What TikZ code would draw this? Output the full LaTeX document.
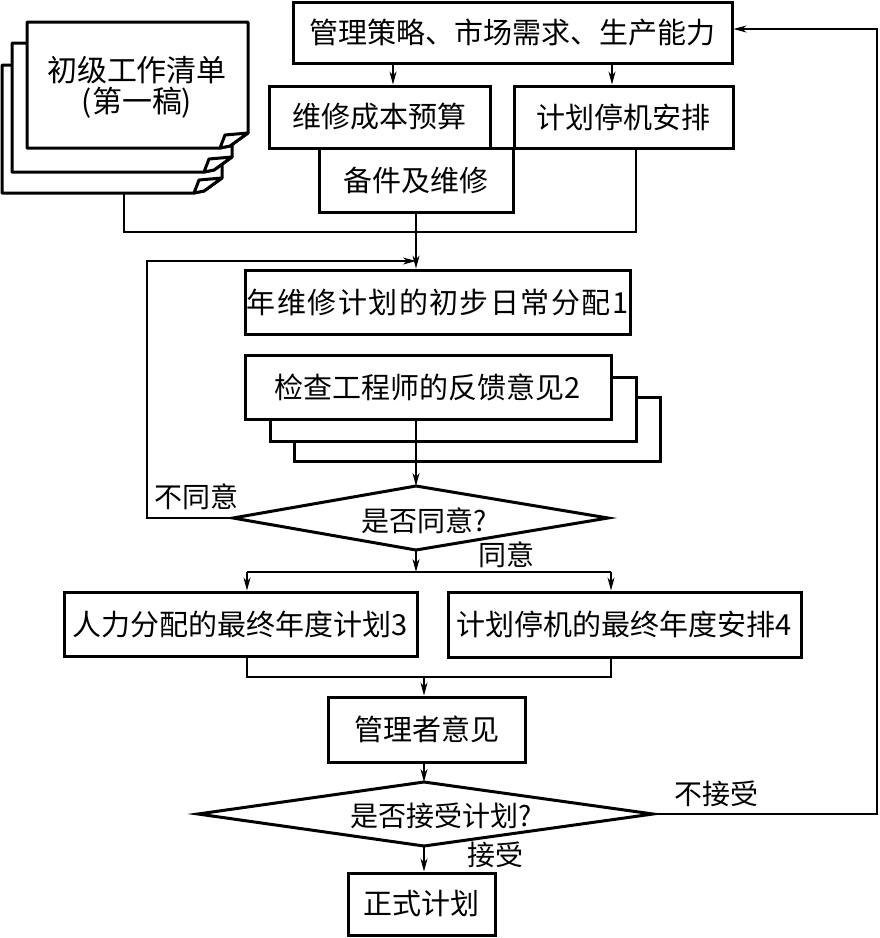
\documentclass[tikz,border=0pt]{standalone}
\usepackage{fontspec}
\setmainfont{Noto Sans CJK SC}
\usetikzlibrary{arrows.meta}
\newcommand{\mydocshape}[4]{%
  \filldraw[docline] (#1,#2) -- (#3,#2) -- (#3,#4-15) -- (#3-18,#4-2) -- (#3-28,#4) -- (#1,#4) -- cycle;
  \filldraw[docline] (#3,#4-15) -- (#3-23,#4-13) -- (#3-28,#4) -- (#3-18,#4-2) -- cycle;}
\begin{document}
\begin{tikzpicture}[x=1pt,y=-1pt,
  box/.style={draw, line width=3pt, fill=white, inner sep=0pt, font=\fontsize{29}{32}\selectfont},
  docline/.style={draw, fill=white, line width=3pt, line join=round},
  dia/.style={draw, fill=white, line width=3pt, line join=miter},
  conn/.style={line width=1.1pt},
  arr/.style={conn, -{Stealth[length=13pt,width=7pt,inset=4pt]}},
  lbl/.style={inner sep=0pt, font=\fontsize{28}{30}\selectfont}]
\useasboundingbox (0,0) rectangle (880,938);

% document stack
\mydocshape{2}{65}{222}{193}
\mydocshape{12}{43}{232}{172}
\mydocshape{27}{22}{248}{148}
\node[inner sep=0pt, align=center, font=\fontsize{30}{31}\selectfont] (doc) at (137,87) {初级工作清单\\(第一稿)};
\coordinate (docb) at (124,193);

% top boxes
\node[box, minimum width=439, minimum height=61] (top) at (512.5,32.5) {管理策略、市场需求、生产能力};
\node[box, minimum width=221, minimum height=62] (cost) at (379.5,117) {维修成本预算};
\node[box, minimum width=219, minimum height=62] (stop) at (623.5,117) {计划停机安排};
\node[box, minimum width=194, minimum height=64] (spare) at (416,180) {备件及维修};

\coordinate (a1) at (393,0);
\coordinate (a2) at (612,0);
\draw[arr] (top.south -| a1) -- (cost.north -| a1);
\draw[arr] (top.south -| a2) -- (stop.north -| a2);

% annual plan
\node[box, minimum width=385, minimum height=64] (annual) at (437.5,302) {\addfontfeature{LetterSpace=5}年维修计划的初步日常分配1};

\coordinate (junc) at (416,232);
\coordinate (stopb) at (636,148);
\draw[conn] (docb) -- (docb |- junc) -- (junc -| stopb) -- (stopb);
\draw[arr] (spare.south) -- (spare.south |- annual.north);

% feedback stack
\node[box, minimum width=366, minimum height=64] (check3) at (477,429) {};
\node[box, minimum width=366, minimum height=64] (check2) at (453,409) {};
\node[box, minimum width=366, minimum height=64] (check) at (428,387) {检查工程师的反馈意见2};

% decision 1
\coordinate (d1l) at (233,518);
\coordinate (d1r) at (608,518);
\coordinate (d1t) at (416,486);
\coordinate (d1b) at (416,550);
\filldraw[dia] (d1l) -- (d1t) -- (d1r) -- (d1b) -- cycle;
\node[lbl] (d1) at (424,521) {是否同意?};
\draw[arr] (check.south -| d1t) -- (d1t);

\coordinate (lp) at (147,261);
\draw[arr] (d1l) -| (lp) -- (spare.south |- lp);
\node[lbl] (no1) at (196,497) {不同意};
\node[lbl] (yes1) at (506,555) {同意};

% final boxes
\node[box, minimum width=353, minimum height=64] (man) at (240.5,624) {人力分配的最终年度计划3};
\node[box, minimum width=353, minimum height=65] (final) at (624.5,624.5) {计划停机的最终年度安排4};

\coordinate (br) at (416,572);
\coordinate (brl) at (247,572);
\coordinate (brr) at (611,572);
\draw[arr] (d1b) -- (br);
\draw[conn] (brl) -- (brr);
\draw[arr] (brl) -- (brl |- man.north);
\draw[arr] (brr) -- (brr |- final.north);

\node[box, minimum width=197, minimum height=65] (mgr) at (426.5,729.5) {管理者意见};
\coordinate (mg) at (424,677);
\draw[conn] (man.south -| brl) -- (brl |- mg) -- (brr |- mg) -- (final.south -| brr);
\draw[arr] (mg) -- (mg |- mgr.north);

% decision 2
\coordinate (d2l) at (198,814);
\coordinate (d2r) at (653,814);
\coordinate (d2t) at (424,782);
\coordinate (d2b) at (424,846);
\filldraw[dia] (d2l) -- (d2t) -- (d2r) -- (d2b) -- cycle;
\node[lbl] (d2) at (441,816) {是否接受计划?};
\draw[arr] (mgr.south -| d2t) -- (d2t);

\node[box, minimum width=147, minimum height=62] (formal) at (421.5,904) {正式计划};
\draw[arr] (d2b) -- (d2b |- formal.north);
\node[lbl] (yes2) at (495,855) {接受};

\coordinate (rc) at (877,29);
\draw[arr] (d2r) -| (rc) -- (rc -| top.east);
\node[lbl] (no2) at (716,794) {不接受};
\end{tikzpicture}
\end{document}
